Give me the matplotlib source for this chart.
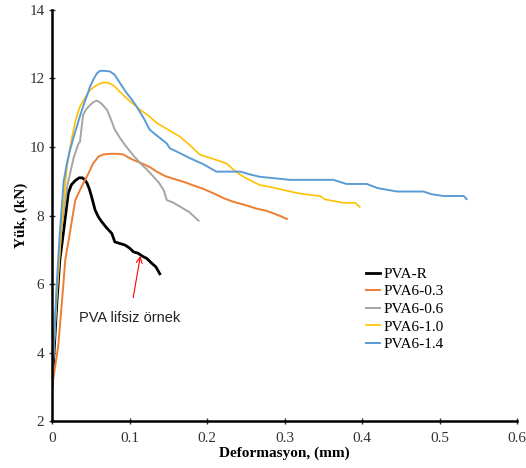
import matplotlib
matplotlib.use('Agg')
import matplotlib.pyplot as plt

plt.rcParams['font.family'] = 'Liberation Serif'

# PVA-R
x_r = [0.0, 0.003, 0.006, 0.010, 0.0146, 0.019, 0.021, 0.025, 0.030, 0.035, 0.039, 0.042, 0.045,
       0.048, 0.051, 0.0555, 0.060, 0.064, 0.070, 0.077, 0.081, 0.088, 0.094, 0.100, 0.105,
       0.111, 0.116, 0.122, 0.129, 0.134, 0.139]
y_r = [3.0, 4.2, 5.4, 6.7, 7.5, 8.3, 8.66, 8.9, 9.02, 9.1, 9.1, 9.05, 8.95,
       8.78, 8.55, 8.16, 7.95, 7.82, 7.65, 7.48, 7.23, 7.18, 7.14, 7.05, 6.94,
       6.9, 6.82, 6.75, 6.6, 6.5, 6.3]
# PVA6-0.3
x_03 = [0.0, 0.004, 0.008, 0.0146, 0.017, 0.023, 0.030, 0.038, 0.047, 0.053, 0.060, 0.066,
        0.075, 0.085, 0.092, 0.098, 0.105, 0.118, 0.127, 0.135, 0.146, 0.157, 0.170,
        0.182, 0.195, 0.208, 0.222, 0.234, 0.250, 0.264, 0.276, 0.286, 0.295, 0.303]
y_03 = [3.0, 3.6, 4.2, 6.0, 6.7, 7.5, 8.45, 8.84, 9.23, 9.52, 9.72, 9.78,
        9.8, 9.8, 9.78, 9.7, 9.62, 9.5, 9.4, 9.28, 9.15, 9.07, 8.98,
        8.88, 8.78, 8.65, 8.5, 8.4, 8.3, 8.2, 8.14, 8.06, 7.98, 7.9]
# PVA6-0.6
x_06 = [0.0, 0.003, 0.006, 0.012, 0.020, 0.028, 0.034, 0.036, 0.038, 0.040, 0.044, 0.049,
        0.054, 0.058, 0.063, 0.071, 0.076, 0.081, 0.088, 0.096, 0.105, 0.114, 0.122,
        0.131, 0.138, 0.144, 0.148, 0.156, 0.165, 0.177, 0.189]
y_06 = [3.3, 4.5, 5.8, 7.6, 8.9, 9.7, 10.1, 10.15, 10.55, 10.93, 11.1, 11.22,
        11.32, 11.35, 11.28, 11.08, 10.8, 10.5, 10.25, 10.0, 9.75, 9.52, 9.35,
        9.13, 8.95, 8.74, 8.45, 8.38, 8.26, 8.1, 7.85]
# PVA6-1.0
x_10 = [0.0, 0.003, 0.006, 0.012, 0.019, 0.025, 0.030, 0.036, 0.043, 0.049, 0.056, 0.062,
        0.067, 0.071, 0.076, 0.081, 0.088, 0.096, 0.105, 0.114, 0.125, 0.135, 0.150,
        0.165, 0.178, 0.191, 0.208, 0.225, 0.236, 0.247, 0.258, 0.268, 0.28, 0.29, 0.307,
        0.320, 0.333, 0.346, 0.352, 0.364, 0.376, 0.391, 0.397]
y_10 = [3.2, 4.4, 5.6, 7.6, 9.4, 10.2, 10.75, 11.18, 11.45, 11.66, 11.78, 11.85,
        11.88, 11.88, 11.84, 11.76, 11.6, 11.42, 11.25, 11.08, 10.9, 10.7, 10.5,
        10.3, 10.05, 9.77, 9.65, 9.52, 9.3, 9.13, 9.0, 8.89, 8.84, 8.79, 8.7,
        8.64, 8.6, 8.57, 8.47, 8.42, 8.37, 8.37, 8.25]
# PVA6-1.4
x_14 = [0.0, 0.002, 0.006, 0.010, 0.015, 0.019, 0.023, 0.028, 0.032, 0.036, 0.040, 0.045,
        0.049, 0.054, 0.058, 0.062, 0.068, 0.075, 0.081, 0.088, 0.096, 0.103, 0.109,
        0.118, 0.126, 0.137, 0.148, 0.152, 0.165, 0.178, 0.195, 0.212, 0.228, 0.243,
        0.255, 0.268, 0.29, 0.307, 0.363, 0.38, 0.406, 0.42, 0.445, 0.479, 0.49,
        0.505, 0.531, 0.535]
y_14 = [3.3, 4.0, 6.0, 7.5, 9.0, 9.5, 9.9, 10.3, 10.6, 10.9, 11.18, 11.5,
        11.76, 12.0, 12.15, 12.22, 12.22, 12.2, 12.1, 11.85, 11.58, 11.38, 11.18,
        10.85, 10.5, 10.3, 10.1, 9.96, 9.82, 9.67, 9.5, 9.28, 9.28, 9.28,
        9.2, 9.13, 9.08, 9.04, 9.04, 8.92, 8.92, 8.8, 8.7, 8.7, 8.62,
        8.57, 8.57, 8.48]

fig = plt.figure(figsize=(5.26, 4.68), dpi=100)
ax = fig.add_axes([0.099, 0.1, 0.884, 0.879])

ax.plot(x_r, y_r, color='black', lw=2.0, label='PVA-R')
ax.plot(x_03, y_03, color='#ED7D31', lw=1.4, label='PVA6-0.3')
ax.plot(x_06, y_06, color='#A5A5A5', lw=1.4, label='PVA6-0.6')
ax.plot(x_10, y_10, color='#FFC000', lw=1.2, label='PVA6-1.0')
ax.plot(x_14, y_14, color='#5B9BD5', lw=1.4, label='PVA6-1.4')

ax.set_xlim(0, 0.6)
ax.set_ylim(2, 14)
ax.set_xticks([0, 0.1, 0.2, 0.3, 0.4, 0.5, 0.6])
ax.set_xticklabels(['0', '0.1', '0.2', '0.3', '0.4', '0.5', '0.6'])
ax.set_yticks([2, 4, 6, 8, 10, 12, 14])
ax.spines['top'].set_visible(False)
ax.spines['right'].set_visible(False)
ax.spines['left'].set_linewidth(1.8)
ax.spines['bottom'].set_linewidth(1.8)
ax.tick_params(direction='inout', length=4, width=1, labelsize=11, colors='#333333')
ax.tick_params(axis='x', pad=6)

ax.set_xlabel('Deformasyon, (mm)', fontweight='bold', fontsize=11, labelpad=1)
ax.set_ylabel('Yük, (kN)', fontweight='bold', fontsize=11, labelpad=1)

ax.annotate('PVA lifsiz örnek', xy=(0.114, 6.82), xytext=(0.1, 5.0),
            fontsize=10.5, family='Liberation Sans', color='#222222',
            ha='center', va='center',
            arrowprops=dict(arrowstyle='->', color='red', lw=0.8,
                            shrinkA=8, shrinkB=0))

ax.legend(loc='upper left', bbox_to_anchor=(0.663, 0.389), frameon=False,
          fontsize=11, handlelength=0.9, handletextpad=0.2, labelspacing=0.25,
          borderaxespad=0)

fig.savefig('out.png', dpi=100)
